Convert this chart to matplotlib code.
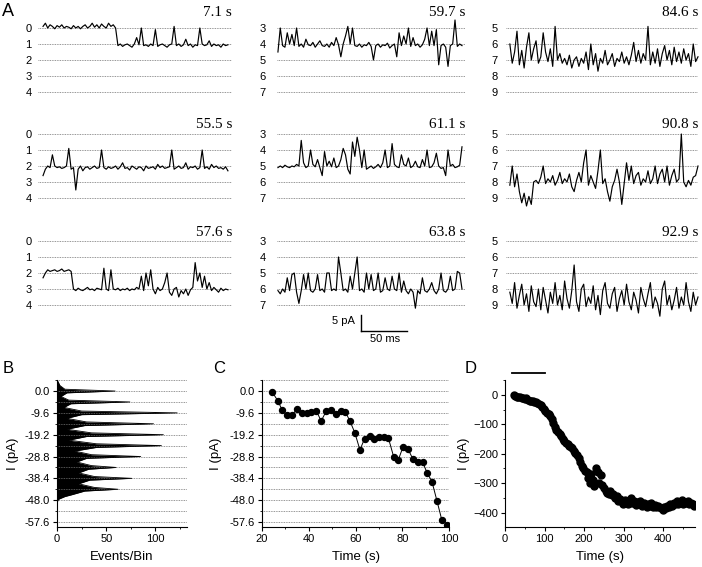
import numpy as np
import matplotlib
matplotlib.use("Agg")
import matplotlib.pyplot as plt
from matplotlib.lines import Line2D
from matplotlib.ticker import MultipleLocator, FixedLocator

plt.rcParams['font.family'] = ['Liberation Sans', 'DejaVu Sans']

# ---- panel A: single-channel traces (levels in units of unitary current) ----
a_times = ["7.1 s", "55.5 s", "57.6 s", "59.7 s", "61.1 s", "63.8 s",
           "84.6 s", "90.8 s", "92.9 s"]
a_first_level = [0, 0, 0, 3, 3, 3, 5, 5, 5]

t1 = [-0.1, -0.3, 0.0, -0.2, -0.1, 0.05, -0.15, -0.05, -0.2, 0.0,
      -0.1, -0.05, 0.05, -0.15, 0.0, -0.1, 0.05, -0.1, -0.2, 0.0,
      -0.1, -0.3, -0.05, -0.2, 0.0, -0.25, -0.1, 0.0, -0.3, -0.1,
      -0.2, 0.0,
      1.1, 1.0, 1.15, 1.05, 1.0, 1.1, 1.2, 1.0, 0.6, 1.05,
      0.0, 1.1, 1.05, 1.15, 1.0, 1.1, 0.1, 1.15, 1.05, 1.0,
      1.1, 1.2, 1.05, 1.0, -0.1, 1.1, 1.0, 1.15, 1.05, 0.7,
      1.1, 1.0, 1.2, 1.05, 1.1, 0.0, 1.0, 1.1, 1.05, 0.8,
      1.15, 1.0, 1.1, 1.05, 1.2, 1.0, 1.1, 1.05]
t2 = [2.6, 2.2, 2.0, 2.1, 1.3, 2.0, 2.1, 2.05, 2.15, 2.1,
      2.0, 0.9, 2.2, 2.1, 3.5, 2.2, 2.0, 2.3, 2.1, 2.05,
      2.2, 2.1, 2.0, 2.15, 2.1, 1.0, 2.1, 2.2, 2.05, 2.15,
      2.1, 2.0, 2.2, 2.05, 1.8, 2.15, 2.1, 2.25, 2.0, 2.1,
      2.2, 2.05, 2.1, 2.3, 2.0, 2.15, 2.1, 2.05, 2.2, 1.9,
      2.1, 2.0, 2.15, 2.1, 2.05, 1.0, 2.2, 2.1, 2.0, 2.15,
      2.1, 1.8, 2.2, 2.05, 2.1, 2.0, 2.2, 2.1, 1.0, 2.15,
      2.05, 2.2, 1.9, 2.1, 2.0, 2.15, 2.1, 2.2, 2.05, 2.3]
t3 = [2.3, 2.0, 1.8, 1.9, 1.85, 1.8, 1.9, 1.85, 1.75, 1.9,
      1.85, 1.8, 1.9, 3.0, 3.1, 2.95, 3.05, 3.1, 3.0, 2.9,
      3.05, 3.0, 3.1, 2.95, 3.0, 3.05, 1.7, 3.0, 3.1, 1.8,
      3.0, 3.05, 2.95, 3.1, 3.0, 3.05, 2.95, 3.1, 3.0, 3.05,
      2.9, 3.0, 2.2, 3.1, 2.0, 2.8, 1.8, 3.0, 3.3, 2.9,
      3.1, 3.0, 2.6, 2.0, 3.2, 3.4, 3.0, 2.9, 3.5, 3.1,
      3.3, 3.0, 3.4, 3.05, 2.9, 1.35, 2.5, 2.0, 2.9, 2.2,
      3.0, 2.6, 3.1, 2.9, 3.05, 3.2, 2.95, 3.1, 3.0, 3.05]
t4 = [4.5, 3.0, 4.1, 4.2, 3.3, 4.0, 3.4, 4.1, 3.0, 4.15,
      4.0, 4.2, 3.7, 4.05, 4.1, 3.9, 4.2, 4.0, 3.8, 4.1,
      4.15, 4.0, 4.2, 3.9, 4.1, 3.6, 4.05, 4.8, 4.0, 3.5,
      2.9, 4.0, 3.0, 4.1, 4.15, 4.0, 4.2, 4.05, 4.1, 3.9,
      4.15, 5.0, 4.1, 4.0, 4.2, 4.05, 4.1, 3.95, 4.25, 4.1,
      4.0, 4.8, 3.3, 4.1, 3.5, 4.0, 3.0, 4.15, 3.6, 4.1,
      4.0, 4.2, 4.05, 3.7, 3.0, 4.1, 3.2, 4.1, 3.1, 5.3,
      4.1, 4.0, 4.2, 5.4, 4.1, 4.0, 2.5, 4.15, 4.0, 4.1]
t5 = [5.1, 5.0, 5.1, 4.95, 5.05, 5.1, 5.0, 5.05, 4.9, 5.0,
      3.4, 4.8, 5.1, 5.0, 4.0, 4.9, 5.05, 4.6, 5.1, 5.6,
      4.1, 5.0, 4.7, 5.05, 4.5, 5.1, 5.0, 4.6, 3.9, 4.3,
      5.2, 5.5, 3.5, 4.4, 3.2, 4.0, 5.1, 4.0, 5.2, 5.1,
      5.0, 5.15, 5.05, 4.9, 5.1, 4.8, 4.0, 5.1, 5.0, 3.6,
      4.9, 5.05, 5.1, 4.3, 4.9, 5.0, 4.5, 5.1, 5.0, 4.7,
      5.05, 5.1, 4.6, 5.0, 4.0, 5.1, 5.05, 4.8, 4.2, 5.0,
      5.15, 5.1, 5.6, 4.0, 5.0, 4.9, 5.1, 5.05, 4.95, 3.8]
t6 = [6.1, 6.3, 6.0, 6.2, 5.3, 6.1, 5.1, 5.0, 6.2, 6.9,
      6.1, 5.1, 6.0, 5.0, 6.1, 6.2, 6.0, 5.1, 6.1, 6.0,
      6.2, 5.0, 5.0, 6.1, 6.0, 6.1, 4.0, 5.0, 6.1, 6.0,
      6.2, 5.2, 6.0, 5.0, 4.0, 6.1, 6.0, 6.2, 5.0, 6.0,
      5.1, 6.1, 6.0, 5.0, 6.2, 6.1, 5.3, 6.0, 6.1, 5.2,
      6.0, 6.1, 5.0, 6.2, 5.5, 6.1, 6.3, 6.0, 6.2, 7.2,
      6.1, 6.3, 5.3, 6.1, 6.2, 6.0, 5.6, 6.1, 6.3, 6.0,
      5.0, 6.1, 6.2, 6.0, 5.2, 6.1, 6.0, 4.9, 5.0, 6.0]
t7 = [6.0, 7.2, 6.5, 5.2, 7.3, 6.4, 7.5, 6.2, 5.3, 7.0,
      6.3, 5.8, 7.2, 6.8, 5.3, 6.5, 7.1, 6.3, 7.4, 4.9,
      7.0, 6.6, 7.2, 6.9, 7.3, 6.7, 7.5, 7.0, 6.8, 7.4,
      6.9, 7.2, 6.5, 7.6, 6.0, 7.3, 6.6, 7.7, 6.9, 7.2,
      6.4, 7.3, 7.0, 6.6, 7.4, 6.9, 7.1, 6.5, 7.2, 6.8,
      7.3, 6.7, 5.9, 7.1, 6.4, 7.2, 6.6, 7.0, 4.9, 7.3,
      6.5, 7.2, 6.3, 7.4, 6.6, 6.1, 7.0, 6.4, 7.3, 6.2,
      7.1, 6.5, 7.2, 6.3, 7.0, 6.6, 7.4, 6.0, 7.1, 6.8]
t8 = [8.2, 7.0, 8.3, 7.5, 8.6, 9.3, 8.7, 9.5, 8.9, 9.4,
      8.0, 7.9, 8.1, 7.7, 7.0, 8.1, 7.8, 8.0, 7.6, 8.2,
      7.9, 7.4, 8.1, 7.8, 8.0, 7.5, 8.3, 8.6, 7.9, 7.4,
      8.0, 6.8, 6.0, 8.2, 7.6, 8.0, 8.4, 7.3, 6.0, 8.1,
      7.8, 8.6, 9.2, 8.3, 7.9, 7.2, 8.0, 9.4, 8.1, 6.8,
      7.9, 7.0, 8.1, 7.6, 7.4, 8.2, 7.8, 8.0, 7.3, 8.1,
      7.8, 7.0, 8.1, 7.5, 7.2, 8.0, 7.0, 8.2, 7.6, 7.2,
      8.0, 7.8, 5.0, 8.0, 8.3, 7.9, 8.2, 7.7, 7.6, 7.0]
t9 = [8.2, 8.9, 7.6, 9.2, 8.4, 7.7, 9.0, 8.3, 9.4, 7.8,
      8.8, 9.1, 8.0, 9.3, 7.9, 8.7, 9.5, 8.2, 8.9, 7.6,
      9.0, 8.4, 9.3, 7.5, 8.6, 9.2, 8.1, 6.5, 8.8, 9.4,
      8.0, 7.7, 9.1, 8.5, 8.9, 7.8, 9.3, 8.4, 9.6, 8.1,
      7.6, 8.9, 9.2, 8.3, 7.9, 9.4, 8.6, 8.1, 9.0, 7.7,
      8.8, 9.3, 8.2, 8.7, 9.5, 7.9, 8.6, 9.1, 8.3, 7.6,
      9.2, 8.5, 8.9, 9.7, 8.0, 7.5, 9.0, 8.4, 9.3, 8.7,
      7.9, 9.2, 8.5, 9.0, 7.6, 8.8, 9.4, 8.2, 9.0, 8.5]
a_traces = [t1, t2, t3, t4, t5, t6, t7, t8, t9]

# ---- panel B: all-points histogram ----
b_current = [5.0, 2.4, 0.8, 0.0, -0.8, -2.4, -4.0, -4.8, -5.6, -7.2,
             -8.8, -9.6, -10.4, -12.0, -13.6, -14.4, -15.2, -16.8, -18.4, -19.2,
             -20.0, -21.6, -23.2, -24.0, -24.8, -26.4, -28.0, -28.8, -29.6, -31.2,
             -32.8, -33.6, -34.4, -36.0, -37.6, -38.4, -39.2, -40.8, -42.4, -43.2,
             -44.0, -45.6, -46.4, -47.5, -48.0, -49.0]
b_counts = [0, 3, 8, 59, 10, 4, 12, 74, 14, 7,
            25, 122, 25, 10, 30, 98, 28, 10, 35, 108,
            30, 12, 40, 106, 40, 18, 35, 85, 30, 20,
            35, 60, 32, 22, 38, 76, 33, 22, 38, 62,
            28, 15, 8, 2, 1, 0]

# ---- panel C: mean current vs time ----
c_time = [24.3, 26.7, 28.7, 30.7, 32.9, 35.0, 37.0, 39.1, 41.1, 43.3,
          45.3, 47.4, 49.4, 51.6, 53.6, 55.7, 57.7, 59.7, 61.9, 63.9,
          66.0, 68.0, 70.0, 72.1, 74.1, 76.3, 78.3, 80.4, 82.4, 84.6,
          86.6, 88.7, 90.7, 92.7, 94.9, 96.9, 99.3]
c_current = [-0.3, -4.2, -8.5, -10.5, -10.5, -7.9, -9.5, -9.8, -9.4, -8.8,
             -13.2, -9.0, -8.2, -10.1, -8.8, -9.2, -13.4, -18.3, -25.9, -20.9,
             -19.6, -21.2, -20.3, -20.0, -20.8, -28.8, -30.3, -24.4, -25.4, -30.0,
             -31.4, -31.3, -36.1, -39.8, -48.5, -56.6, -58.8]

# ---- panel D: whole-cell current vs time ----
d_start, d_step = 22, 4
d_current = [0, -3, -6, -8, -7, -10, -9, -12, -11, -18,
             -20, -22, -21, -25, -24, -28, -30, -35, -40, -48,
             -55, -60, -66, -72, -80, -95, -108, -118, -125, -132,
             -140, -150, -156, -162, -168, -172, -178, -180, -190, -196,
             -205, -215, -228, -242, -250, -258, -262, -282, -300, -270,
             -288, -310, -250, -262, -298, -272, -305, -318, -325, -332,
             -338, -328, -340, -336, -350, -345, -360, -355, -362, -370,
             -358, -366, -372, -360, -352, -368, -362, -375, -365, -370,
             -362, -378, -368, -375, -380, -372, -378, -368, -380, -374,
             -382, -376, -380, -386, -392, -380, -386, -376, -380, -372,
             -378, -368, -372, -362, -370, -365, -358, -370, -364, -368,
             -362, -372, -366, -370, -376]
d_time = np.arange(len(d_current)) * d_step + d_start

W, H = 702, 567
fig = plt.figure(figsize=(W / 100, H / 100), dpi=100)


def px_axes(left, top, right, bottom):
    return fig.add_axes([left / W, 1 - bottom / H, (right - left) / W, (bottom - top) / H])


dot_style = dict(color='0.45', lw=0.6, linestyle=(0, (1, 1)))

# panel A layout
col_x = [(38, 232), (277, 465), (506, 698)]
trace_span = [(0.026, 0.979), (0.005, 0.984), (0.02, 1.0)]
label_pad = [4.5, 8, 6]
row_top = [28, 134, 241]
time_y = [13, 125, 232]
step = 16

for k, trace in enumerate(a_traces):
    col, row = k // 3, k % 3
    x0, x1 = col_x[col]
    y0 = row_top[row]
    first = a_first_level[k]
    ax = px_axes(x0, y0 - step, x1, y0 + 5 * step)
    ax.set_xlim(0, 1)
    ax.set_ylim(first + 5, first - 1)
    levels = list(range(first, first + 5))
    for lv in levels:
        ax.axhline(lv, **dot_style)
    xs = np.linspace(trace_span[col][0], trace_span[col][1], len(trace))
    ax.plot(xs, trace, color='black', lw=0.85, clip_on=False)
    ax.set_yticks(levels)
    ax.set_yticklabels([str(v) for v in levels])
    ax.set_xticks([])
    ax.tick_params(axis='y', length=0, pad=label_pad[col], labelsize=8)
    for s in ax.spines.values():
        s.set_visible(False)
    ax.patch.set_visible(False)
    fig.text(x1 / W, 1 - time_y[row] / H, a_times[k], ha='right', va='center',
             family='Liberation Serif', fontsize=11)

# scale bar
fig.add_artist(Line2D([361 / W, 361 / W], [1 - 315 / H, 1 - 331 / H], color='black', lw=1))
fig.add_artist(Line2D([361 / W, 407 / W], [1 - 331 / H, 1 - 331 / H], color='black', lw=1))
fig.text(355 / W, 1 - 321 / H, "5 pA", ha='right', va='center', fontsize=8)
fig.text(385 / W, 1 - 339 / H, "50 ms", ha='center', va='center', fontsize=8)

grid_levels = [4.8 - 4.8 * i for i in range(14)]
ytick_vals = [0.0, -9.6, -19.2, -28.8, -38.4, -48.0, -57.6]


def style_axes(ax):
    ax.spines['top'].set_visible(False)
    ax.spines['right'].set_visible(False)
    for s in ['left', 'bottom']:
        ax.spines[s].set_linewidth(0.8)
    ax.tick_params(which='major', direction='out', length=3, width=0.8, labelsize=8, pad=2)
    ax.tick_params(which='minor', direction='out', length=1.5, width=0.6)
    ax.patch.set_visible(False)


def place_labels(ax, xl, yl, ylx):
    ax.set_xlabel(xl, fontsize=9.5)
    ax.set_ylabel(yl, fontsize=9.5)
    ax.xaxis.set_label_coords(0.5, -0.205)
    ax.xaxis.label.set_va('center')
    ax.yaxis.set_label_coords(ylx, 0.5)
    ax.yaxis.label.set_va('center')


# panel B
ax_b = px_axes(57, 380, 187, 527)
for v in grid_levels:
    ax_b.axhline(v, **dot_style)
ax_b.fill_betweenx(b_current, 0, b_counts, color='black', lw=0)
ax_b.plot(b_counts, b_current, color='black', lw=0.6)
ax_b.set_xlim(0, 132)
ax_b.set_ylim(-59.8, 4.85)
ax_b.set_yticks(ytick_vals)
ax_b.set_yticklabels(["%.1f" % v for v in ytick_vals])
ax_b.yaxis.set_minor_locator(FixedLocator(grid_levels))
ax_b.set_xticks([0, 50, 100])
ax_b.xaxis.set_minor_locator(MultipleLocator(25))
style_axes(ax_b)
place_labels(ax_b, "Events/Bin", "I (pA)", -0.338)

# panel C
ax_c = px_axes(262, 380, 449, 527)
for v in grid_levels:
    ax_c.axhline(v, **dot_style)
ax_c.plot(c_time, c_current, '-o', color='black', lw=0.7, ms=4.3)
ax_c.set_xlim(20, 100)
ax_c.set_ylim(-59.8, 4.85)
ax_c.set_yticks(ytick_vals)
ax_c.set_yticklabels(["%.1f" % v for v in ytick_vals])
ax_c.yaxis.set_minor_locator(FixedLocator(grid_levels))
ax_c.set_xticks([20, 40, 60, 80, 100])
ax_c.xaxis.set_minor_locator(MultipleLocator(10))
style_axes(ax_c)
place_labels(ax_c, "Time (s)", "I (pA)", -0.246)

# panel D
ax_d = px_axes(505, 380, 695, 527)
ax_d.plot(d_time, d_current, 'o', color='black', ms=5)
ax_d.plot([17, 100], [75, 75], color='black', lw=1.3, clip_on=False)
ax_d.set_xlim(0, 480)
ax_d.set_ylim(-449, 51)
ax_d.set_yticks([0, -100, -200, -300, -400])
ax_d.yaxis.set_minor_locator(MultipleLocator(50))
ax_d.set_xticks([0, 100, 200, 300, 400])
ax_d.xaxis.set_minor_locator(MultipleLocator(50))
style_axes(ax_d)
place_labels(ax_d, "Time (s)", "I (pA)", -0.215)

# panel letters
for letter, lx, ly, fs in [("A", 2, 3, 13), ("B", 3, 361, 12), ("C", 213, 361, 12), ("D", 465, 361, 12)]:
    fig.text(lx / W, 1 - ly / H, letter, ha='left', va='top', fontsize=fs)

fig.savefig("out.png", dpi=100)
